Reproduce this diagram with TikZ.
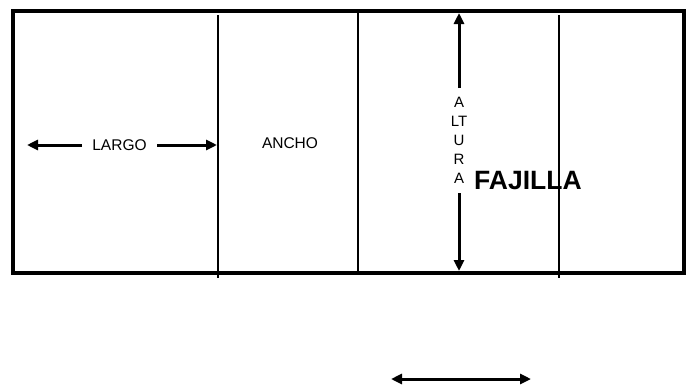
\documentclass[tikz,border=0pt]{standalone}
\usepackage{fontspec}
\setmainfont{Liberation Sans}
\usetikzlibrary{arrows.meta}
\begin{document}
\begin{tikzpicture}[x=1pt,y=-1pt,
  frame/.style={line width=3.4pt},
  divider/.style={line width=2.2pt},
  arr/.style={line width=3pt,-{Triangle[length=11pt,width=10pt]}},
  darr/.style={line width=3pt,{Triangle[length=11pt,width=10pt]}-{Triangle[length=11pt,width=10pt]}},
  lbl/.style={font=\fontsize{15.5}{18}\selectfont,inner sep=1pt},
  vlbl/.style={font=\fontsize{15}{19}\selectfont,align=center,inner sep=0pt},
  big/.style={font=\fontsize{26.5}{30}\selectfont\bfseries,inner sep=0pt,anchor=west}]
\useasboundingbox (0,0) rectangle (687,388);
\fill[white] (0,0) rectangle (687,388);
% outer frame
\draw[frame] (13,11) rectangle (684,273);
% dividers
\coordinate (d1t) at (218,15); \coordinate (d1b) at (218,278);
\coordinate (d2t) at (358,11); \coordinate (d2b) at (358,273);
\coordinate (d3t) at (559,15); \coordinate (d3b) at (559,278);
\draw[divider] (d1t) -- (d1b);
\draw[divider] (d2t) -- (d2b);
\draw[divider] (d3t) -- (d3b);
% LARGO
\node[lbl] (largo) at (119.5,145) {LARGO};
\coordinate (largoL) at (27,145);
\coordinate (largoR) at (217,145);
\draw[arr] (82,145) -- (largoL);
\draw[arr] (157,145) -- (largoR);
% ANCHO
\node[lbl] (ancho) at (290,143) {ANCHO};
% ALTURA
\node[vlbl] (altura) at (459,140) {A\\LT\\U\\R\\A};
\coordinate (altT) at (459,13);
\coordinate (altB) at (459,271);
\draw[arr] (459,88) -- (altT);
\draw[arr] (459,193) -- (altB);
% FAJILLA
\node[big] (fajilla) at (474,181) {FAJILLA};
% bottom arrow
\coordinate (bL) at (391,379);
\coordinate (bR) at (531,379);
\draw[darr] (bL) -- (bR);
\end{tikzpicture}
\end{document}
